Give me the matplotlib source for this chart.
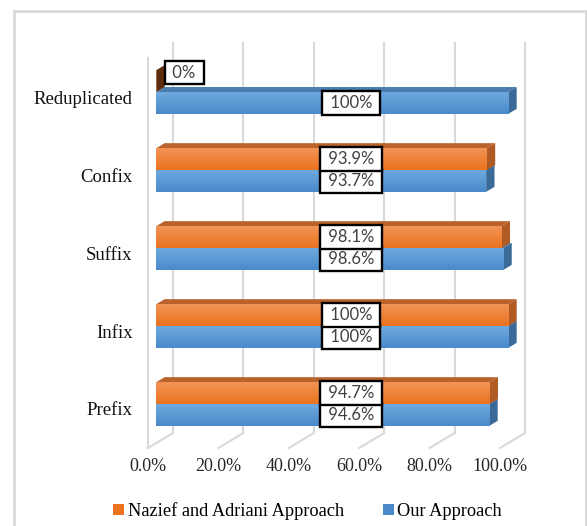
import numpy as np
import matplotlib.pyplot as plt
from matplotlib.colors import LinearSegmentedColormap
from matplotlib.patches import Patch, Rectangle
from matplotlib.ticker import PercentFormatter

plt.rcParams['font.family'] = ['Liberation Serif', 'DejaVu Serif']

# Data
categories = ['Prefix', 'Infix', 'Suffix', 'Confix', 'Reduplicated']
nazief = [0.947, 1.00, 0.981, 0.939, 0.0]
ours = [0.946, 1.00, 0.986, 0.937, 1.00]
nazief_labels = ['94.7%', '100%', '98.1%', '93.9%', '0%']
our_labels = ['94.6%', '100%', '98.6%', '93.7%', '100%']
x_ticks = [0.0, 0.2, 0.4, 0.6, 0.8, 1.0]
series_names = ['Nazief and Adriani Approach', 'Our Approach']

# Styles (front light, front dark, top face, end face)
ORANGE = ('#F39455', '#E9731F', '#B9622C', '#B05A24')
BLUE = ('#6EA9DE', '#4A8ACB', '#4B7DAE', '#3B6A98')
GRID = '#d9d9d9'

fig = plt.figure(figsize=(5.87, 5.26), dpi=100)
ax = fig.add_axes([0.2521, 0.1483, 0.5997, 0.7414])
ax.set_xlim(0, 1)
ax.set_ylim(-0.5, 4.5)
for s in ax.spines.values():
    s.set_visible(False)

# oblique depth, in data units (about 25 px right and 15 px up at full depth)
DDX = 25 / 352
DDY = 15 / 390 * 5
D0, D1 = 1 / 3, 2 / 3
H = 0.28

# back wall, floor and left edge
for xt in x_ticks:
    ax.plot([xt + DDX] * 2, [-0.5 + DDY, 4.5 + DDY], color=GRID, lw=1.5,
            zorder=0, clip_on=False)
    ax.plot([xt, xt + DDX], [-0.5, -0.5 + DDY], color=GRID, lw=1.5,
            zorder=0, clip_on=False)
ax.plot([0, 0], [-0.5, 4.5], color=GRID, lw=1.5, zorder=0, clip_on=False)

z = [2]


def bar3d(y, v, style):
    light, dark, top_c, side_c = style
    if v == 0:
        side_c = '#5C2C0C'
    bx, by = D0 * DDX, y + D0 * DDY
    dx, dy = (D1 - D0) * DDX, (D1 - D0) * DDY
    ax.fill([bx, bx + v, bx + v + dx, bx + dx],
            [by + H / 2, by + H / 2, by + H / 2 + dy, by + H / 2 + dy],
            color=top_c, lw=0, zorder=z[0], clip_on=False)
    ax.fill([bx + v, bx + v + dx, bx + v + dx, bx + v],
            [by - H / 2, by - H / 2 + dy, by + H / 2 + dy, by + H / 2],
            color=side_c, lw=0, zorder=z[0], clip_on=False)
    if v > 0:
        bars = ax.barh(by, v, left=bx, height=H, color=dark, lw=0,
                       zorder=z[0] + 0.5)
        cmap = LinearSegmentedColormap.from_list('g', [light, dark])
        img = ax.imshow(np.linspace(0, 1, 60).reshape(-1, 1), cmap=cmap,
                        extent=[bx, bx + v, by - H / 2, by + H / 2],
                        aspect='auto', origin='upper', zorder=z[0] + 0.6)
        img.set_clip_path(bars.patches[0])
    z[0] += 1
    return bx, by


label_kw = dict(ha='center', va='center', fontsize=12, family='Lato',
                color='#404040', zorder=50,
                bbox=dict(boxstyle='square,pad=0.22', fc='white',
                          ec='black', lw=1.7))

for i in range(len(categories)):
    _, by_b = bar3d(i - H / 2, ours[i], BLUE)
    _, by_o = bar3d(i + H / 2, nazief[i], ORANGE)
    ax.text(0.577, by_b, f' {our_labels[i]} ', **label_kw)
    if nazief[i] > 0:
        ax.text(0.577, by_o, f' {nazief_labels[i]} ', **label_kw)
    else:
        ax.text(0.103, by_o + 0.11, f' {nazief_labels[i]} ', **label_kw)

ax.set_xlim(0, 1)
ax.set_ylim(-0.5, 4.5)
ax.set_xticks(x_ticks)
ax.xaxis.set_major_formatter(PercentFormatter(1.0, decimals=1))
ax.set_yticks(range(len(categories)), categories)
ax.tick_params(axis='x', length=0, pad=7, labelsize=13, labelcolor='#262626')
ax.tick_params(axis='y', length=0, pad=11, labelsize=13.5, labelcolor='#111111')

handles = [Patch(fc=ORANGE[1]), Patch(fc=BLUE[1])]
fig.legend(handles, series_names, loc='center', bbox_to_anchor=(0.524, 0.0285),
           ncol=2, frameon=False, fontsize=13.2, handlelength=0.6,
           handleheight=0.6, handletextpad=0.2, columnspacing=2.1)

fig.add_artist(Rectangle((13.5 / 587, -0.02), (585.5 - 13.5) / 587,
                         1 - 10.5 / 526 + 0.02, transform=fig.transFigure,
                         fill=False, ec=GRID, lw=2))

fig.savefig('out.png', dpi=100)
